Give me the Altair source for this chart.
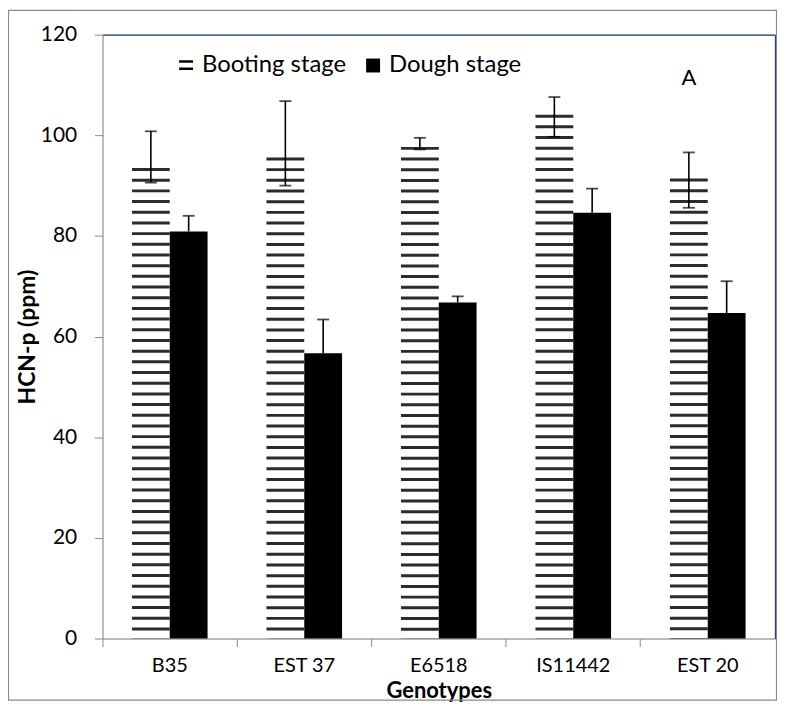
import altair as alt
import pandas as pd

genotypes = ["B35", "EST 37", "E6518", "IS11442", "EST 20"]
booting = [93.5, 95.6, 97.7, 104.1, 91.4]
booting_lo = [90.6, 90.0, 97.2, 99.7, 85.6]
booting_hi = [100.8, 106.8, 99.5, 107.6, 96.6]
dough = [80.9, 56.7, 66.8, 84.6, 64.7]
dough_hi = [84.0, 63.4, 68.0, 89.4, 71.0]
stages = ["Booting stage", "Dough stage"]
y_ticks = [0, 20, 40, 60, 80, 100, 120]

df = pd.DataFrame({
    "genotype": genotypes,
    "booting": booting,
    "blo": booting_lo,
    "bhi": booting_hi,
    "dough": dough,
    "dhi": dough_hi,
})
leg = pd.DataFrame({"stage": stages})

W, H = 676, 607
FONT = "Lato"
GRAY = "#898989"
BLUE = "#203a72"

xscale = alt.Scale(domain=genotypes, paddingInner=0, paddingOuter=0)
yscale = alt.Scale(domain=[0, 120], nice=False)

x_bottom = alt.X("genotype:N", scale=xscale, sort=genotypes, axis=alt.Axis(
    orient="bottom", bandPosition=0, labelAngle=0,
    tickSize=8, tickColor=GRAY, domainColor=GRAY, labelFont=FONT,
    labelFontSize=20, labelColor="black", labelPadding=9,
    title="Genotypes", titleFont=FONT, titleFontSize=22, titleFontWeight="bold",
    titleColor="black", titlePadding=5))
x_top = alt.X("genotype:N", scale=xscale, sort=genotypes, axis=alt.Axis(
    orient="top", ticks=False, labels=False, title=None, domainColor=BLUE,
    domainWidth=1.3))
x_none = alt.X("genotype:N", scale=xscale, sort=genotypes, axis=None)

y_left = alt.Axis(orient="left", values=y_ticks, tickSize=8, tickColor=GRAY,
                  domainColor=GRAY, grid=False, labelFont=FONT, labelFontSize=21,
                  labelColor="black", labelPadding=18,
                  title="HCN-p (ppm)", titleFont=FONT, titleFontSize=23,
                  titleFontWeight="bold", titleColor="black", titlePadding=1)
y_right = alt.Axis(orient="right", ticks=False, labels=False, title=None,
                   domainColor=BLUE, domainWidth=1.3, grid=False)

stripes = alt.Chart(df).mark_rule(
    strokeWidth=38, strokeDash=[3, 7.74], color="#2b2b2b", xOffset=-19
).encode(
    x=x_bottom,
    y=alt.Y("booting:Q", scale=yscale, axis=y_left),
    y2=alt.datum(0),
)

dough_bars = alt.Chart(df).mark_bar(width=38, xOffset=19, color="black").encode(
    x=x_top,
    y=alt.Y("dough:Q", scale=yscale, axis=y_right),
)

b_err = alt.Chart(df).mark_rule(color="black", strokeWidth=1.6, xOffset=-19).encode(
    x=x_none, y=alt.Y("blo:Q", scale=yscale, axis=None), y2="bhi:Q")
b_cap_lo = alt.Chart(df).mark_tick(color="black", size=12, thickness=1.8, xOffset=-19).encode(
    x=x_none, y=alt.Y("blo:Q", scale=yscale, axis=None))
b_cap_hi = alt.Chart(df).mark_tick(color="black", size=12, thickness=1.8, xOffset=-19).encode(
    x=x_none, y=alt.Y("bhi:Q", scale=yscale, axis=None))
d_err = alt.Chart(df).mark_rule(color="black", strokeWidth=1.6, xOffset=19).encode(
    x=x_none, y=alt.Y("dough:Q", scale=yscale, axis=None), y2="dhi:Q")
d_cap_hi = alt.Chart(df).mark_tick(color="black", size=12, thickness=1.8, xOffset=19).encode(
    x=x_none, y=alt.Y("dhi:Q", scale=yscale, axis=None))

# legend symbols: two thin filled bars (hatch sample) and a filled square
hatch_symbol = "M-1,-0.75H1V-0.4H-1ZM-1,0.3H1V0.65H-1Z"
legend_layer = alt.Chart(leg).mark_point(
    filled=True, fill="black", opacity=0
).encode(
    x=alt.datum("B35", scale=xscale, axis=None),
    y=alt.datum(0, scale=yscale, axis=None),
    shape=alt.Shape("stage:N", scale=alt.Scale(domain=stages, range=[hatch_symbol, "square"]),
                    legend=alt.Legend(
                        title=None, orient="none", legendX=72, legendY=19,
                        direction="horizontal", columns=2, columnPadding=14,
                        symbolSize=196, symbolStrokeWidth=0, symbolOpacity=1,
                        symbolFillColor="black",
                        labelFont=FONT, labelFontSize=24, labelColor="black",
                        labelOffset=4, padding=0)),
)

label_a = alt.Chart(leg).transform_filter(alt.datum.stage == "Booting stage").mark_text(
    text="A", font=FONT, fontSize=22, color="black", xOffset=-19
).encode(
    x=alt.datum("EST 20", scale=xscale, axis=None),
    y=alt.datum(111.3, scale=yscale, axis=None),
)

frame = alt.Chart(leg).transform_filter(alt.datum.stage == "Booting stage").mark_rect(
    fill=None, stroke=GRAY, strokeWidth=1.2
).encode(
    x=alt.value(-94.5), x2=alt.value(W + 1.5),
    y=alt.value(-24.5), y2=alt.value(H + 62),
)

chart = alt.layer(
    frame, stripes, dough_bars, b_err, b_cap_lo, b_cap_hi, d_err, d_cap_hi,
    legend_layer, label_a
).resolve_axis(x="independent", y="independent").properties(
    width=W, height=H, autosize="none",
    padding={"left": 95, "top": 25, "right": 2, "bottom": 63},
).configure_view(stroke=None).configure(background="white")

chart.save("out.html", embed_options={"renderer": "svg", "actions": False})
